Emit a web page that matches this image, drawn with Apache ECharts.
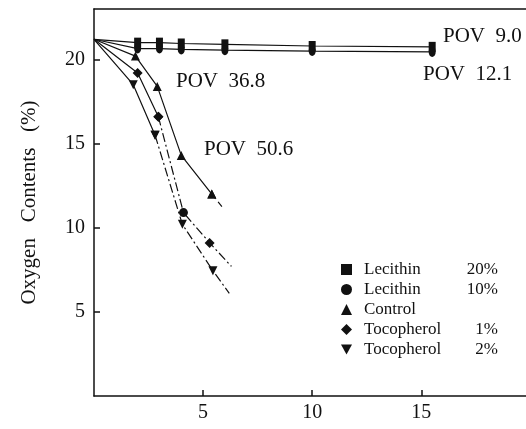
<!DOCTYPE html>
<html>
<head>
<meta charset="utf-8">
<script src="https://cdn.jsdelivr.net/npm/echarts@6/dist/echarts.min.js"></script>
<style>
  html, body { margin: 0; padding: 0; background: #fff; }
  #chart { width: 526px; height: 429px; }
</style>
</head>
<body>
<div id="chart"></div>
<script>
// ---- data ----
const xTicks = [5, 10, 15];
const yTicks = [5, 10, 15, 20];

const lec20X = [0, 2, 3, 4, 6, 10, 15.5];
const lec20Y = [21.2, 21.0, 21.0, 20.95, 20.9, 20.8, 20.75];

const lec10X = [0, 2, 3, 4, 6, 10, 15.5];
const lec10Y = [21.2, 20.65, 20.65, 20.6, 20.55, 20.5, 20.45];

const controlX = [0, 1.9, 2.9, 4.0, 5.4, 5.9];
const controlY = [21.2, 20.2, 18.4, 14.3, 12.0, 11.2];

const toco1X = [0, 2.0, 2.95, 4.1, 5.3, 6.3];
const toco1Y = [21.2, 19.2, 16.6, 10.9, 9.1, 7.7];

const toco2X = [0, 1.8, 2.8, 4.05, 5.45, 6.2];
const toco2Y = [21.2, 18.5, 15.5, 10.2, 7.45, 6.1];

const seriesNames = ['Lecithin 20%', 'Lecithin 10%', 'Control', 'Tocopherol 1%', 'Tocopherol 2%'];
const povLabels = ['POV  9.0', 'POV  12.1', 'POV  36.8', 'POV  50.6'];

// ---- build ----
const FONT = 'Liberation Serif';
const BLACK = '#111';

// first point (common origin) and final line-end points carry no marker
function markedData(xs, ys, from, to, lastIsEnd) {
  const out = [];
  for (let i = from; i <= to; i++) {
    const item = { value: [xs[i], ys[i]] };
    if (i === 0 || (lastIsEnd && i === xs.length - 1)) item.symbolSize = 0;
    out.push(item);
  }
  return out;
}

function lineSeries(name, data, symbol, size, dash, extra) {
  return Object.assign({
    name: name,
    type: 'line',
    data: data,
    symbol: symbol,
    symbolSize: size,
    showSymbol: true,
    animation: false,
    color: BLACK,
    itemStyle: { color: BLACK },
    lineStyle: { color: BLACK, width: 1.2, type: dash || 'solid' },
    z: 3
  }, extra || {});
}

const toco1Data = markedData(toco1X, toco1Y, 2, toco1X.length - 1, true);
// the marker at the 4th reading looks round in the original print
toco1Data[1].symbol = 'circle';
toco1Data[1].symbolSize = 9;

const series = [
  lineSeries(seriesNames[0], markedData(lec20X, lec20Y, 0, lec20X.length - 1, false), 'rect', [7, 10]),
  lineSeries(seriesNames[1], markedData(lec10X, lec10Y, 0, lec10X.length - 1, false), 'circle', [7, 10]),
  lineSeries(seriesNames[2], markedData(controlX, controlY, 0, 4, false), 'triangle', 9),
  lineSeries(seriesNames[2], markedData(controlX, controlY, 4, controlX.length - 1, true), 'triangle', 9, [6, 4]),
  lineSeries(seriesNames[3], markedData(toco1X, toco1Y, 0, 2, false), 'diamond', 10),
  lineSeries(seriesNames[3], toco1Data, 'diamond', 10, [9, 3, 2, 3]),
  lineSeries(seriesNames[4], markedData(toco2X, toco2Y, 0, 2, false), 'triangle', 9, 'solid', { symbolRotate: 180 }),
  lineSeries(seriesNames[4], markedData(toco2X, toco2Y, 2, toco2X.length - 1, true), 'triangle', 9, [9, 3, 2, 3], { symbolRotate: 180 })
];

const legendIcons = ['rect', 'circle', 'triangle', 'diamond', 'path://M0,0L10,0L5,9Z'];

const chart = echarts.init(document.getElementById('chart'), null, { renderer: 'canvas' });

const labelStyle = { fontFamily: FONT, fontSize: 21, fill: BLACK };

chart.setOption({
  backgroundColor: '#fff',
  animation: false,
  grid: { left: 94, right: 0, top: 9, bottom: 33, containLabel: false },
  xAxis: [{
    type: 'value', min: 0, max: 19.8, interval: 5,
    axisLine: { show: true, lineStyle: { color: BLACK, width: 1.5 } },
    axisTick: { show: true, inside: true, length: 6, customValues: xTicks, lineStyle: { color: BLACK, width: 1.5 } },
    axisLabel: {
      fontFamily: FONT, fontSize: 20, color: BLACK, margin: 7,
      customValues: xTicks,
      formatter: v => (xTicks.indexOf(v) >= 0 ? String(v) : '')
    },
    splitLine: { show: false }
  }, {
    type: 'value', position: 'top', min: 0, max: 19.8,
    axisLine: { show: true, onZero: false, lineStyle: { color: BLACK, width: 1.5 } },
    axisTick: { show: false }, axisLabel: { show: false }, splitLine: { show: false }
  }],
  yAxis: {
    type: 'value', min: 0, max: 23, interval: 5,
    name: 'Oxygen   Contents   (%)',
    nameLocation: 'middle', nameGap: 54,
    nameTextStyle: { fontFamily: FONT, fontSize: 21, color: BLACK },
    axisLine: { show: true, lineStyle: { color: BLACK, width: 1.5 } },
    axisTick: { show: true, inside: true, length: 6, customValues: yTicks, lineStyle: { color: BLACK, width: 1.5 } },
    axisLabel: {
      fontFamily: FONT, fontSize: 20, color: BLACK, margin: 9,
      customValues: yTicks,
      formatter: v => (yTicks.indexOf(v) >= 0 ? String(v) : '')
    },
    splitLine: { show: false }
  },
  legend: {
    left: 336, top: 256, orient: 'vertical',
    selectedMode: false,
    itemWidth: 11, itemHeight: 11, itemGap: 3,
    data: seriesNames.map((n, i) => ({ name: n, icon: legendIcons[i] })),
    itemStyle: { color: BLACK },
    textStyle: {
      fontFamily: FONT, fontSize: 17, color: BLACK,
      rich: {
        a: { fontFamily: FONT, fontSize: 17, color: BLACK, width: 104, padding: [0, 0, 0, 7], lineHeight: 17 },
        b: { fontFamily: FONT, fontSize: 17, color: BLACK, width: 30, align: 'right', lineHeight: 17 }
      }
    },
    formatter: name => {
      const k = name.lastIndexOf(' ');
      if (/%$/.test(name)) return '{a|' + name.slice(0, k) + '}{b|' + name.slice(k + 1) + '}';
      return '{a|' + name + '}{b|}';
    }
  },
  graphic: [
    { type: 'text', left: 443, top: 26, style: Object.assign({ text: povLabels[0] }, labelStyle) },
    { type: 'text', left: 423, top: 64, style: Object.assign({ text: povLabels[1] }, labelStyle) },
    { type: 'text', left: 176, top: 71, style: Object.assign({ text: povLabels[2] }, labelStyle) },
    { type: 'text', left: 204, top: 139, style: Object.assign({ text: povLabels[3] }, labelStyle) }
  ],
  series: series
});
</script>
</body>
</html>
